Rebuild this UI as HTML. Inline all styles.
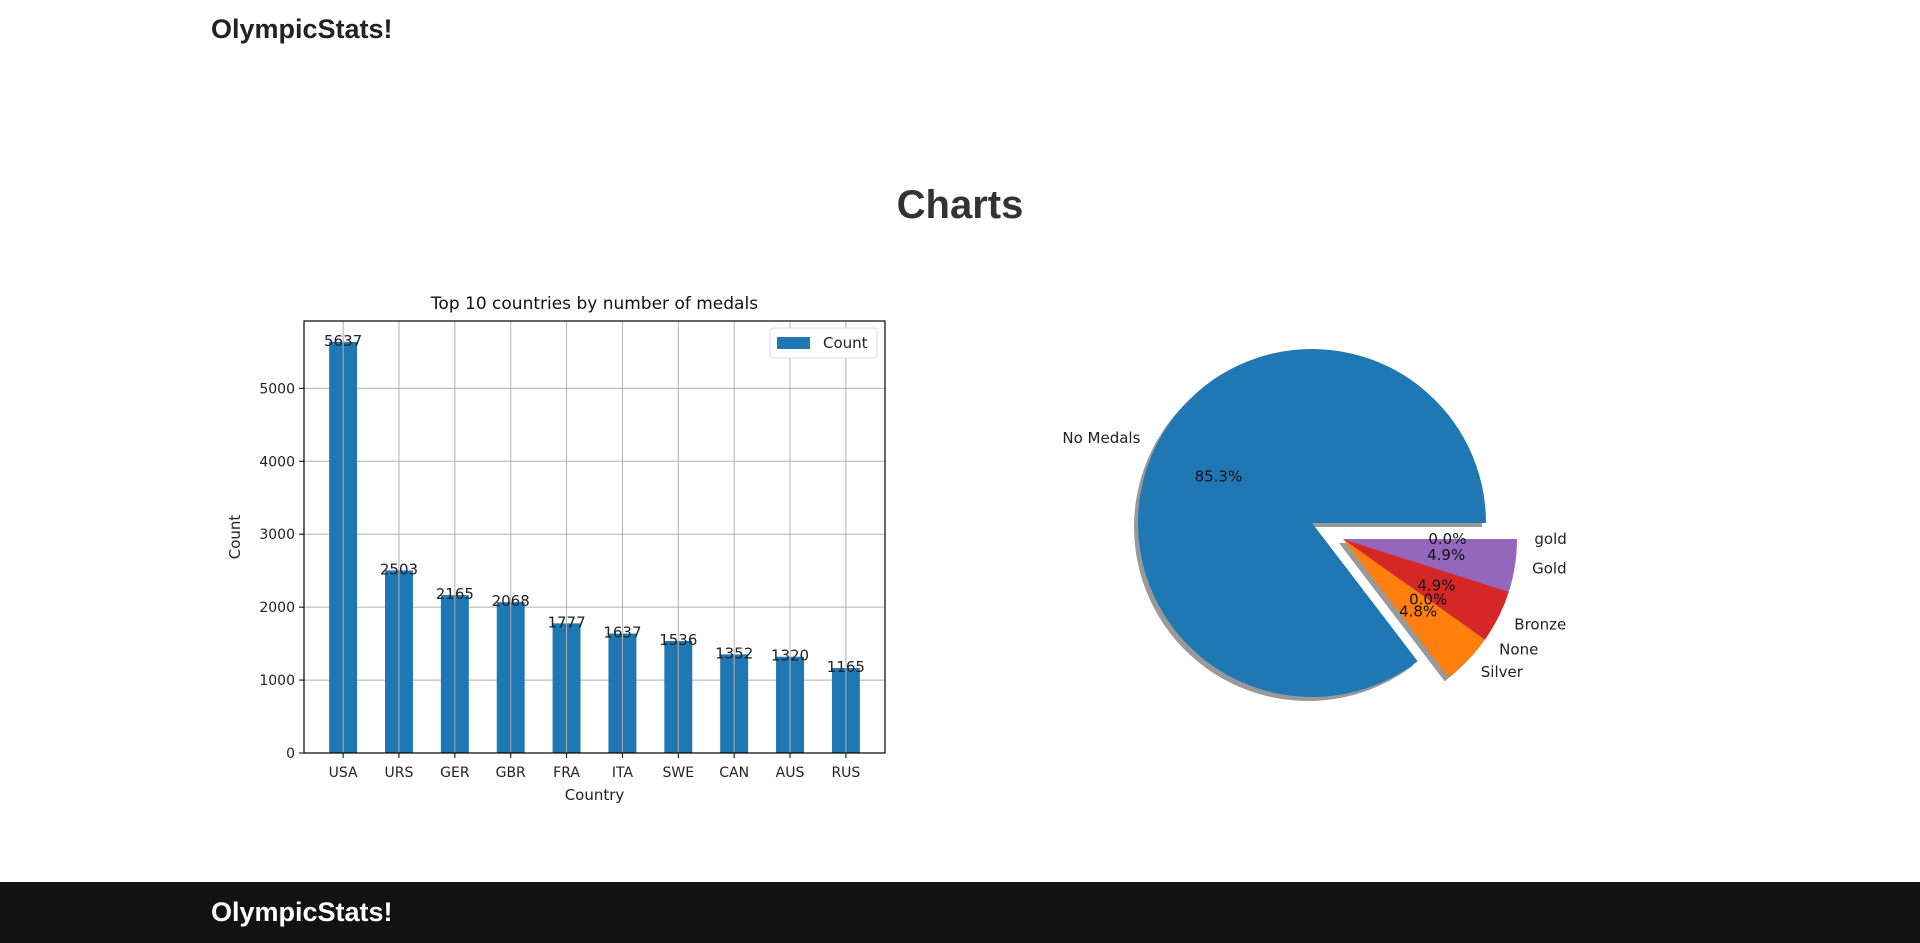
<!DOCTYPE html>
<html><head><meta charset="utf-8"><style>
body{margin:0;width:1920px;height:943px;background:#fff;position:relative;overflow:hidden;font-family:"Liberation Sans",sans-serif}
.brand{position:absolute;left:211px;font-weight:bold;font-size:27px;color:#222}
#footer{position:absolute;left:0;top:882px;width:1920px;height:61px;background:#121212}
h1{position:absolute;top:183px;left:0;width:1920px;text-align:center;margin:0;font-size:40px;color:#333}
svg text{font-family:"DejaVu Sans",sans-serif}
</style></head><body>
<div class="brand" style="top:14px">OlympicStats!</div>
<h1>Charts</h1>
<div id="footer"><div class="brand" style="top:15px;color:#fff">OlympicStats!</div></div>
<svg id="bar" width="1920" height="880" style="position:absolute;left:0;top:0"></svg>
<script>
const categories=["USA","URS","GER","GBR","FRA","ITA","SWE","CAN","AUS","RUS"];
const counts=[5637,2503,2165,2068,1777,1637,1536,1352,1320,1165];
const yTicks=[0,1000,2000,3000,4000,5000];
const pieLabels=["No Medals","Silver","None","Bronze","Gold","gold"];
const pieValues=[85.3,4.8,0.0,4.9,4.9,0.0];
const pieColors=["#1f77b4","#ff7f0e","#2ca02c","#d62728","#9467bd","#8c564b"];
const pieExploded=[false,true,true,true,true,true];

const NS="http://www.w3.org/2000/svg";
const svg=document.getElementById('bar');
function mk(t,a,p){const e=document.createElementNS(NS,t);for(const k in a)e.setAttribute(k,a[k]);(p||svg).appendChild(e);return e;}
const L=304,R=885,T=321,B=753,ymax=5923;
const y=v=>B-(B-T)*v/ymax;
const step=(R-L)/(categories.length+0.4);
const x=i=>L+step*(0.7+i);
yTicks.forEach(v=>{const l=mk('line',{x1:L,x2:R,y1:y(v),y2:y(v),stroke:'#b0b0b0','stroke-width':1});

mk('line',{x1:L-5,x2:L,y1:y(v),y2:y(v),stroke:'#000'});
const t=mk('text',{x:L-9,y:y(v)+5,'text-anchor':'end','font-size':14,fill:'#222'});t.textContent=v;
});
categories.forEach((c,i)=>{const r=mk('rect',{x:x(i)-step/4,y:y(counts[i]),width:step/2,height:B-y(counts[i]),fill:'#1f77b4'});

const g=mk('line',{x1:x(i),x2:x(i),y1:T,y2:B,stroke:'#b0b0b0','stroke-width':1});

mk('line',{x1:x(i),x2:x(i),y1:B,y2:B+5,stroke:'#000'});
const t=mk('text',{x:x(i),y:B+24,'text-anchor':'middle','font-size':14,fill:'#222'});t.textContent=c;

const v=mk('text',{x:x(i),y:y(counts[i])+4,'text-anchor':'middle','font-size':15,fill:'#222'});v.textContent=counts[i];
});
const fr=mk('rect',{x:L,y:T,width:R-L,height:B-T,fill:'none',stroke:'#000','stroke-width':1.2});

let t=mk('text',{x:(L+R)/2,y:309,'text-anchor':'middle','font-size':17,fill:'#111'});t.textContent='Top 10 countries by number of medals';

t=mk('text',{x:(L+R)/2,y:800,'text-anchor':'middle','font-size':15,fill:'#222'});t.textContent='Country';

t=mk('text',{x:0,y:0,'text-anchor':'middle','font-size':15,fill:'#222',transform:`translate(240,${(T+B)/2}) rotate(-90)`});t.textContent='Count';

const lg=mk('g',{});
mk('rect',{x:770,y:328,width:107,height:30,fill:'#fff',stroke:'#ddd',rx:3},lg);
mk('rect',{x:777,y:337,width:33,height:12,fill:'#1f77b4'},lg);
t=mk('text',{x:823,y:348,'font-size':15,fill:'#222'},lg);t.textContent='Count';
// pie
const cx=1312,cy=523,r=174,DX=31,DY=16;
const tot=pieValues.reduce((a,b)=>a+b,0);
function wedge(a0,a1,ox,oy,attrs){const p0=[ox+r*Math.cos(a0),oy-r*Math.sin(a0)],p1=[ox+r*Math.cos(a1),oy-r*Math.sin(a1)];
const large=(a1-a0)>Math.PI?1:0;return mk('path',Object.assign({d:`M${ox},${oy} L${p0[0]},${p0[1]} A${r},${r} 0 ${large} 0 ${p1[0]},${p1[1]} Z`},attrs));}
let a=0;const segs=[];
pieValues.forEach((v,i)=>{const a1=a+v/tot*2*Math.PI;const m=(a+a1)/2;
segs.push({a0:a,a1,m,ox:cx+(pieExploded[i]?DX:0),oy:cy+(pieExploded[i]?DY:0)});a=a1;});
segs.forEach((s,i)=>{if(pieValues[i]>0){const sh=wedge(s.a0,s.a1,s.ox-4,s.oy+4,{fill:'#555',opacity:0.6});
}});
segs.forEach((s,i)=>{if(pieValues[i]>0){const w=wedge(s.a0,s.a1,s.ox,s.oy,{fill:pieColors[i]});
}});
segs.forEach((s,i)=>{const lx=s.ox+1.1*r*Math.cos(s.m),ly=s.oy-1.1*r*Math.sin(s.m);
const anc=Math.cos(s.m)>=0?'start':'end';
const tl=mk('text',{x:lx,y:ly+5,'text-anchor':anc,'font-size':15,fill:'#222'});tl.textContent=pieLabels[i];

const px=s.ox+0.6*r*Math.cos(s.m),py=s.oy-0.6*r*Math.sin(s.m);
const tp=mk('text',{x:px,y:py+5,'text-anchor':'middle','font-size':15,fill:'#111'});tp.textContent=pieValues[i].toFixed(1)+'%';
});
</script>
</body></html>
